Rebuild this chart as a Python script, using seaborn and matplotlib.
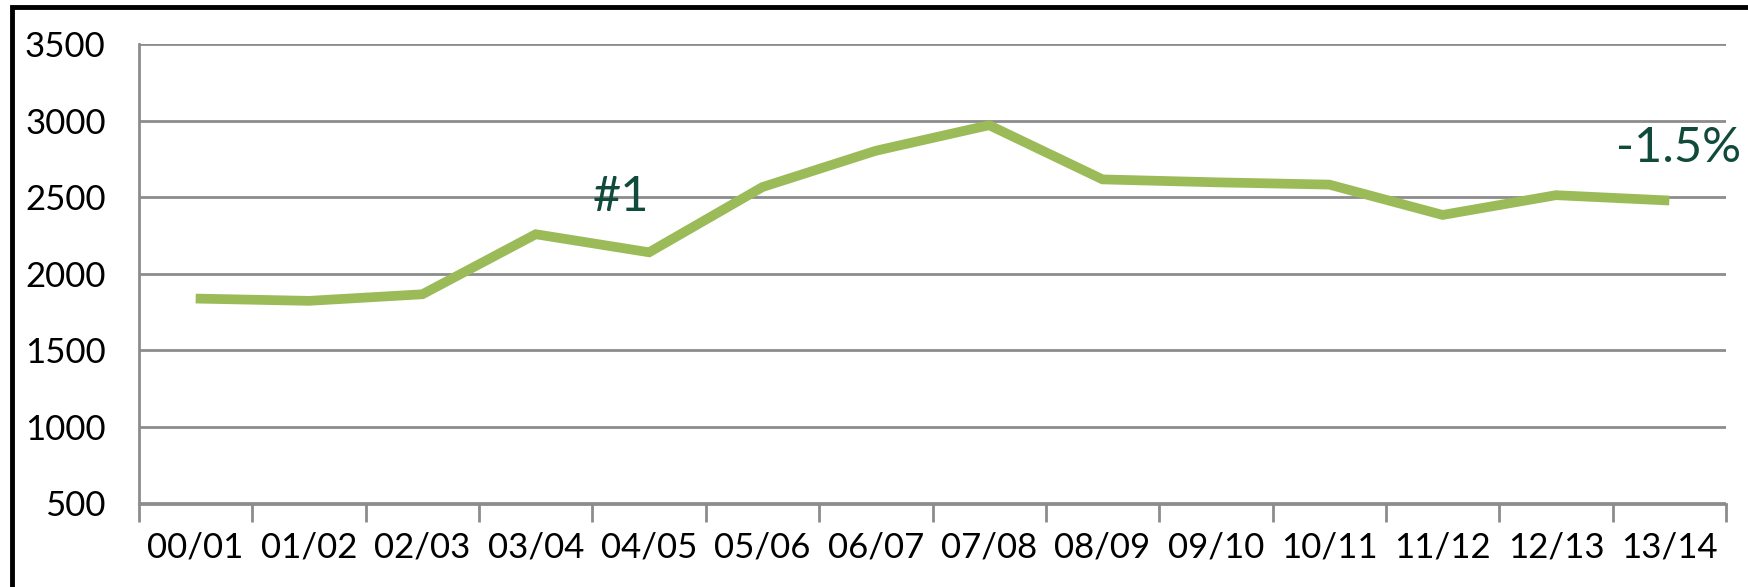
import matplotlib
matplotlib.use("Agg")
import matplotlib.pyplot as plt
import matplotlib.patches as mpatches
import numpy as np
import pandas as pd
import seaborn as sns

sns.set_theme(style="white")
plt.rcParams["font.family"] = ["Lato", "DejaVu Sans"]

# values
seasons = ["00/01", "01/02", "02/03", "03/04", "04/05", "05/06", "06/07",
           "07/08", "08/09", "09/10", "10/11", "11/12", "12/13", "13/14"]
values = [1838, 1823, 1866, 2258, 2140, 2566, 2803,
          2970, 2616, 2597, 2582, 2384, 2513, 2478]
y_ticks = [500, 1000, 1500, 2000, 2500, 3000, 3500]

LINE_GREEN = "#9BBB59"
TEXT_GREEN = "#0F4A3A"
GRID_GREY = "#8C8C8C"

df = pd.DataFrame({"season": seasons, "value": values})
df["pos"] = np.arange(len(seasons))

fig = plt.figure(figsize=(17.49, 5.87), dpi=100)
ax = fig.add_axes([139 / 1749, 1 - 503.5 / 587, (1726 - 139) / 1749, (503.5 - 44) / 587])

sns.lineplot(data=df, x="pos", y="value", ax=ax, color=LINE_GREEN,
             linewidth=7, solid_joinstyle="miter", solid_capstyle="butt", zorder=3)

ax.set_xlim(-0.5, len(seasons) - 0.5)
ax.set_ylim(500, 3500)
ax.set_yticks(y_ticks)
ax.set_yticklabels([str(v) for v in y_ticks], fontsize=25)
ax.set_xticks(df["pos"])
ax.set_xticklabels(seasons, fontsize=25)
ax.set_xticks(np.arange(-0.5, len(seasons), 1), minor=True)
ax.set_xlabel("")
ax.set_ylabel("")

ax.yaxis.grid(True, color=GRID_GREY, linewidth=2)
ax.xaxis.grid(False)
ax.set_axisbelow(True)
ax.tick_params(axis="x", which="major", length=0, pad=20, colors="black")
ax.tick_params(axis="x", which="minor", length=13, width=2, color=GRID_GREY, direction="out")
ax.tick_params(axis="y", length=12, width=2, color=GRID_GREY, direction="out", pad=12, labelcolor="black")
ax.xaxis.set_tick_params(which="both", bottom=True)

for side in ["top", "right"]:
    ax.spines[side].set_visible(False)
for side in ["left", "bottom"]:
    ax.spines[side].set_color(GRID_GREY)
    ax.spines[side].set_linewidth(2)

ax.text(4, 2500, "#1", ha="right", va="center", fontsize=35, color=TEXT_GREEN)
ax.text(13.63, 2821, "-1.5%", ha="right", va="center", fontsize=35,
        color=TEXT_GREEN, clip_on=False)

# black frame round the chart, running off the right and bottom edges
fig.add_artist(mpatches.Rectangle((12 / 1749, -0.1), 1.2, 1 - 7 / 587 + 0.1,
                                  transform=fig.transFigure, fill=False,
                                  edgecolor="black", linewidth=3.5))

fig.savefig("out.png", dpi=100)
